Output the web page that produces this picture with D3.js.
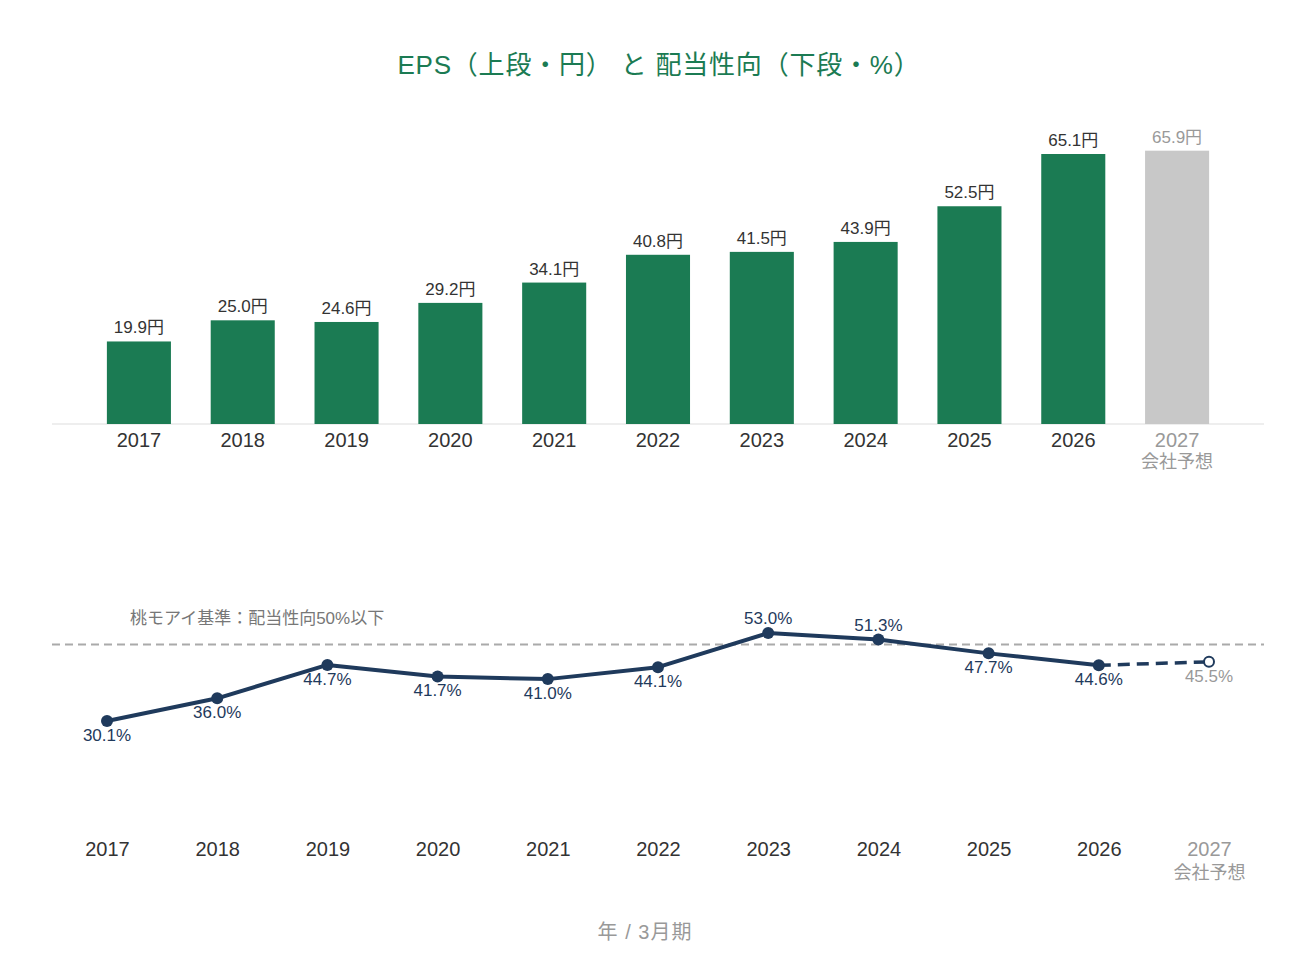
<!DOCTYPE html>
<html>
<head>
<meta charset="utf-8">
<script src="https://cdn.jsdelivr.net/npm/d3@7"></script>
<style>
  body { margin: 0; background: #fff; }
  svg text { font-family: "Liberation Sans", "Noto Sans CJK JP", sans-serif; }
</style>
</head>
<body>
<div id="chart"></div>
<script>
// data
const years = ["2017", "2018", "2019", "2020", "2021", "2022", "2023", "2024", "2025", "2026", "2027"];
const eps = [19.9, 25.0, 24.6, 29.2, 34.1, 40.8, 41.5, 43.9, 52.5, 65.1, 65.9];
const payout = [30.1, 36.0, 44.7, 41.7, 41.0, 44.1, 53.0, 51.3, 47.7, 44.6, 45.5];
const forecastYear = "2027";
const forecastNote = "会社予想";
const payoutRule = 50;
const labelAbove = ["2023", "2024"];

const green = "#1b7b53", grey = "#c8c8c8", navy = "#1f3a5c";
const fontStack = "\"Liberation Sans\", \"Noto Sans CJK JP\", sans-serif";

let width = 1290, height = 960;

let svg = d3.select("#chart")
    .append("svg")
    .attr("width", width)
    .attr("height", height);

// title
svg.append("text")
    .attr("x", 659).attr("y", 74)
    .attr("text-anchor", "middle")
    .attr("font-size", 26)
    .attr("letter-spacing", 0.8)
    .attr("fill", green)
    .text("EPS（上段・円） と 配当性向（下段・%）");

// ---------- EPS bars ----------
let x = d3.scaleBand().domain(years).range([87, 1229])
    .paddingInner(0.383).paddingOuter(0.1915);
let y = d3.scaleLinear().domain([0, 65.1]).range([424, 154]);

svg.append("line")
    .attr("x1", 52).attr("x2", 1264)
    .attr("y1", y(0)).attr("y2", y(0))
    .attr("stroke", "#dddddd").attr("stroke-width", 1);

let bars = svg.append("g");
years.forEach(function(yr, i) {
    let fc = yr === forecastYear;
    bars.append("rect")
        .attr("x", x(yr))
        .attr("y", y(eps[i]))
        .attr("width", x.bandwidth())
        .attr("height", y(0) - y(eps[i]))
        .attr("fill", fc ? grey : green);
    bars.append("text")
        .attr("x", x(yr) + x.bandwidth() / 2)
        .attr("y", y(eps[i]) - 8)
        .attr("text-anchor", "middle")
        .attr("font-size", 17)
        .attr("fill", fc ? "#999" : "#333")
        .text(eps[i].toFixed(1) + "円");
});

// x axis labels (top)
let xAxisTop = svg.append("g")
    .attr("transform", "translate(0," + y(0) + ")")
    .call(d3.axisBottom(x).tickSize(0).tickPadding(11));
xAxisTop.select(".domain").remove();
xAxisTop.selectAll("text")
    .attr("font-size", 20)
    .attr("font-family", fontStack)
    .attr("fill", function(d) { return d === forecastYear ? "#999" : "#333"; })
    .attr("dy", "0.6em");
xAxisTop.selectAll(".tick").filter(function(d) { return d === forecastYear; })
    .append("text")
    .attr("y", 31).attr("dy", "0.71em")
    .attr("text-anchor", "middle")
    .attr("font-size", 18)
    .attr("font-family", fontStack)
    .attr("fill", "#999")
    .text(forecastNote);

// ---------- payout line ----------
let x2 = d3.scalePoint().domain(years).range([107, 1209]);
let y2 = d3.scaleLinear().domain([30.1, 53.0]).range([721, 633]);

// reference line
svg.append("line")
    .attr("x1", 52).attr("x2", 1264)
    .attr("y1", y2(payoutRule)).attr("y2", y2(payoutRule))
    .attr("stroke", "#aaaaaa").attr("stroke-width", 2)
    .attr("stroke-dasharray", "8,5");
svg.append("text")
    .attr("x", 130).attr("y", 624)
    .attr("font-size", 17)
    .attr("fill", "#777")
    .text("桃モアイ基準：配当性向50%以下");

let pts = years.map(function(yr, i) { return {yr: yr, v: payout[i]}; });
let line = d3.line()
    .x(function(d) { return x2(d.yr); })
    .y(function(d) { return y2(d.v); });

let actual = pts.filter(function(d) { return d.yr !== forecastYear; });
let fcPart = pts.slice(pts.length - 2);

svg.append("path")
    .datum(actual)
    .attr("fill", "none")
    .attr("stroke", navy)
    .attr("stroke-width", 4)
    .attr("stroke-linejoin", "round")
    .attr("d", line);
svg.append("path")
    .datum(fcPart)
    .attr("fill", "none")
    .attr("stroke", navy)
    .attr("stroke-width", 3.5)
    .attr("stroke-dasharray", "12,7")
    .attr("d", line);

svg.selectAll(".dot")
    .data(pts)
    .enter().append("circle")
    .attr("cx", function(d) { return x2(d.yr); })
    .attr("cy", function(d) { return y2(d.v); })
    .attr("r", function(d) { return d.yr === forecastYear ? 5 : 6; })
    .attr("fill", function(d) { return d.yr === forecastYear ? "#fff" : navy; })
    .attr("stroke", navy)
    .attr("stroke-width", function(d) { return d.yr === forecastYear ? 2 : 0; });

svg.selectAll(".plabel")
    .data(pts)
    .enter().append("text")
    .attr("x", function(d) { return x2(d.yr); })
    .attr("y", function(d) {
        return labelAbove.indexOf(d.yr) >= 0 ? y2(d.v) - 9 : y2(d.v) + 20;
    })
    .attr("text-anchor", "middle")
    .attr("font-size", 17)
    .attr("fill", function(d) { return d.yr === forecastYear ? "#999" : navy; })
    .text(function(d) { return d.v.toFixed(1) + "%"; });

// x axis labels (bottom)
let xAxisBottom = svg.append("g")
    .attr("transform", "translate(0,844)")
    .call(d3.axisBottom(x2).tickSize(0).tickPadding(0));
xAxisBottom.select(".domain").remove();
xAxisBottom.selectAll("text")
    .attr("font-size", 20)
    .attr("font-family", fontStack)
    .attr("fill", function(d) { return d === forecastYear ? "#999" : "#333"; })
    .attr("dy", "0.6em");
xAxisBottom.selectAll(".tick").filter(function(d) { return d === forecastYear; })
    .append("text")
    .attr("y", 22).attr("dy", "0.71em")
    .attr("text-anchor", "middle")
    .attr("font-size", 18)
    .attr("font-family", fontStack)
    .attr("fill", "#999")
    .text(forecastNote);

// axis title
svg.append("text")
    .attr("x", 645).attr("y", 939)
    .attr("text-anchor", "middle")
    .attr("font-size", 20)
    .attr("letter-spacing", 1)
    .attr("fill", "#999")
    .text("年 / 3月期");
</script>
</body>
</html>
